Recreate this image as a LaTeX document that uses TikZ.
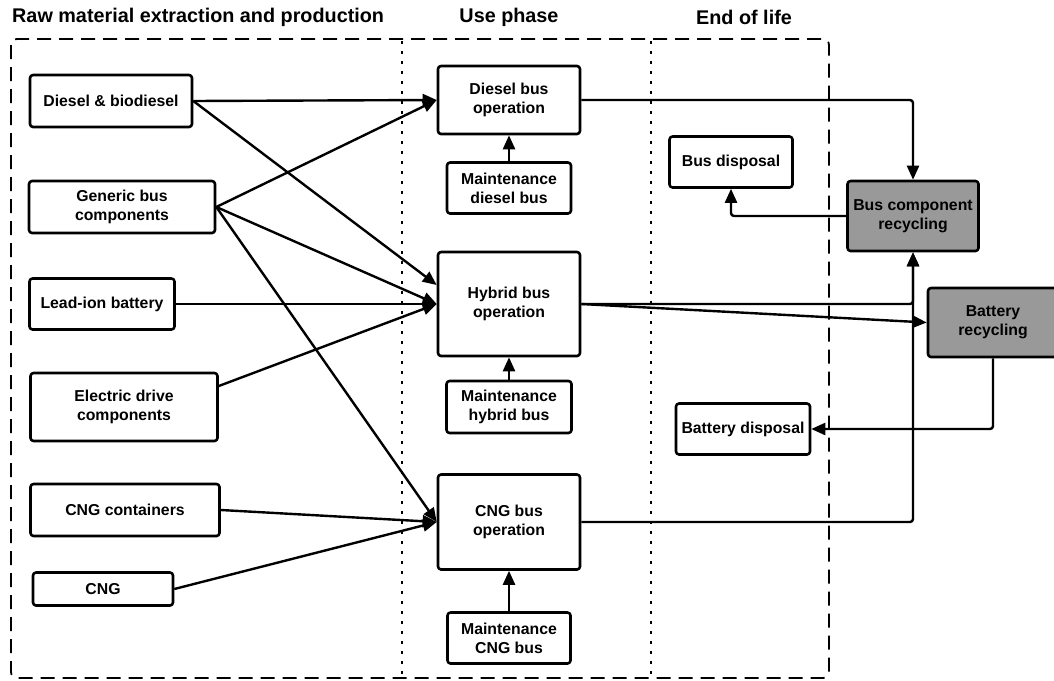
\documentclass[tikz,border=0pt]{standalone}
\usepackage{fontspec}
\setmainfont{Liberation Sans}
\usetikzlibrary{arrows.meta}

\begin{document}
\begin{tikzpicture}[x=1pt,y=-1pt,>={Triangle[length=14pt,width=12pt]},line join=round,
  box/.style={draw,line width=2.6pt,rounded corners=3pt,inner sep=0pt,align=center,
    font=\bfseries\fontsize{15.8}{19}\selectfont},
  greybox/.style={box,fill=gray!80},
  title/.style={font=\bfseries\fontsize{19.8}{22}\selectfont,inner sep=0pt},
  flow/.style={line width=2.4pt,->}]
\useasboundingbox (0,0) rectangle (1054,680);
%%
 \node (title_raw) at (12,17) [title,anchor=west] {Raw material extraction and production};
 \node (title_use) at (509,17) [title] {Use phase};
 \node (title_eol) at (744,17) [title] {End of life};
%
 \draw [line width=1.8pt,dash pattern=on 14pt off 8pt,rounded corners=6pt] (11,39) rectangle (829,678);
 \draw [line width=2.8pt,dash pattern=on 2.8pt off 7.2pt] (402,41) -- (402,676);
 \draw [line width=2.8pt,dash pattern=on 2.8pt off 7.2pt] (651,41) -- (651,676);
%%
 \node (node_diesel) at (111,101) [box,minimum width=162,minimum height=52] {Diesel \& biodiesel};
 \node (node_generic) at (122,207) [box,minimum width=186,minimum height=52] {Generic bus\\components};
 \node (node_leadion) at (102,304) [box,minimum width=145,minimum height=51] {Lead-ion battery};
 \node (node_electric) at (124,407) [box,minimum width=187,minimum height=68] {Electric drive\\components};
 \node (node_cngcont) at (125,510) [box,minimum width=189,minimum height=52] {CNG containers};
 \node (node_cng) at (103,589) [box,minimum width=140,minimum height=33] {CNG};
%
 \node (node_dieselop) at (509,100) [box,minimum width=142,minimum height=68] {Diesel bus\\operation};
 \node (node_maintd) at (509,188) [box,minimum width=124,minimum height=51] {Maintenance\\diesel bus};
 \node (node_hybridop) at (509,304) [box,minimum width=142,minimum height=104] {Hybrid bus\\operation};
 \node (node_mainth) at (509,407) [box,minimum width=125,minimum height=52] {Maintenance\\hybrid bus};
 \node (node_cngop) at (509,522) [box,minimum width=142,minimum height=95] {CNG bus\\operation};
 \node (node_maintc) at (509,638) [box,minimum width=123,minimum height=51] {Maintenance\\CNG bus};
%
 \node (node_busdisp) at (731,162) [box,minimum width=123,minimum height=51] {Bus disposal};
 \node (node_buscomp) at (913,216) [greybox,minimum width=131,minimum height=70] {Bus component\\recycling};
 \node (node_batrec) at (993,322.5) [greybox,minimum width=130,minimum height=69] {Battery\\recycling};
 \node (node_batdisp) at (743,429) [box,minimum width=134,minimum height=51] {Battery disposal};
%%
  \draw [flow] (node_diesel.east) -- (node_dieselop.west);
  \draw [flow] (node_diesel.east) -- ([yshift=19pt]node_hybridop.west);
  \draw [flow] (node_generic.east) -- (node_dieselop.west);
  \draw [flow] (node_generic.east) -- (node_hybridop.west);
  \draw [flow] (node_generic.east) -- (node_cngop.west);
  \draw [flow] (node_leadion.east) -- (node_hybridop.west);
  \draw [flow] ([yshift=21pt]node_electric.east) -- (node_hybridop.west);
  \draw [flow] (node_cngcont.east) -- (node_cngop.west);
  \draw [flow] (node_cng.east) -- (node_cngop.west);
%
  \draw [flow] (node_maintd) -- (node_dieselop);
  \draw [flow] (node_mainth) -- (node_hybridop);
  \draw [flow] (node_maintc) -- (node_cngop);
%
  \draw [flow,rounded corners=3pt] (node_dieselop.east) -| (node_buscomp.north);
  \draw [flow,rounded corners=3pt] (node_hybridop.east) -| (node_buscomp.south);
  \draw [flow,rounded corners=3pt] (node_cngop.east) -| (node_buscomp.south);
  \draw [flow] (node_hybridop.east) -- (node_batrec.west);
  \draw [flow,rounded corners=3pt] (node_buscomp.west) -| (node_busdisp.south);
  \draw [flow,rounded corners=3pt] (node_batrec.south) |- (node_batdisp.east);
%
\end{tikzpicture}
\end{document}
